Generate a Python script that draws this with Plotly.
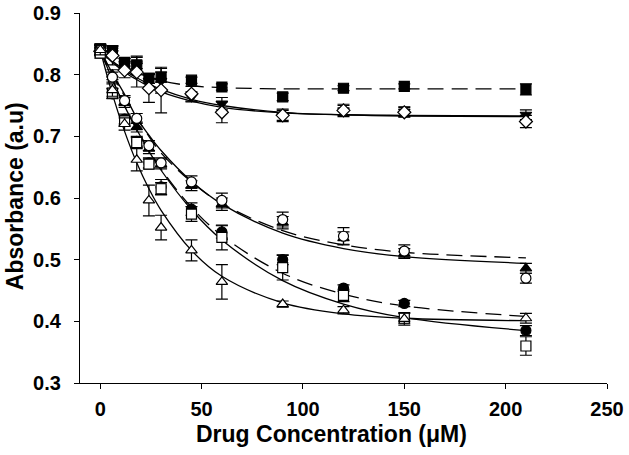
import plotly.graph_objects as go

conc = [0, 6, 12, 18, 24, 30, 45, 60, 90, 120, 150, 210]

# measured points (symbol: values, error)
sq_filled = [0.842, 0.839, 0.820, 0.816, 0.794, 0.796, 0.791, 0.780, 0.764, 0.778, 0.781, 0.776]
sq_filled_err = [0.008, 0.008, 0.006, 0.006, 0.008, 0.008, 0.005, 0.005, 0.006, 0.004, 0.004, 0.009]
tri_down = [0.840, 0.835, 0.818, 0.815, 0.790, 0.790, 0.764, 0.753, 0.734, 0.742, 0.740, 0.735]
tri_down_err = [0.008, 0.008, 0.008, 0.015, 0.010, 0.020, 0.008, 0.010, 0.008, 0.008, 0.008, 0.008]
diamond = [0.838, 0.831, 0.807, 0.804, 0.778, 0.775, 0.769, 0.739, 0.734, 0.742, 0.739, 0.724]
diamond_err = [0.008, 0.015, 0.012, 0.024, 0.023, 0.037, 0.012, 0.017, 0.010, 0.010, 0.008, 0.010]
circ_open = [0.840, 0.796, 0.758, 0.729, 0.685, 0.657, 0.626, 0.596, 0.565, 0.538, 0.514, 0.470]
circ_open_err = [0.008, 0.008, 0.008, 0.008, 0.008, 0.008, 0.010, 0.012, 0.012, 0.014, 0.010, 0.008]
tri_filled = [0.840, 0.800, 0.755, 0.715, 0.680, 0.655, 0.620, 0.590, 0.560, 0.535, 0.510, 0.486]
tri_filled_err = [0.008, 0.008, 0.008, 0.008, 0.008, 0.008, 0.008, 0.010, 0.010, 0.010, 0.008, 0.008]
circ_filled = [0.840, 0.769, 0.728, 0.692, 0.657, 0.618, 0.582, 0.545, 0.500, 0.454, 0.429, 0.385]
circ_filled_err = [0.008, 0.008, 0.008, 0.008, 0.008, 0.012, 0.010, 0.010, 0.008, 0.005, 0.005, 0.008]
sq_open = [0.835, 0.770, 0.725, 0.690, 0.655, 0.615, 0.574, 0.536, 0.487, 0.442, 0.405, 0.360]
sq_open_err = [0.008, 0.008, 0.008, 0.008, 0.008, 0.010, 0.012, 0.020, 0.020, 0.010, 0.008, 0.015]
tri_open = [0.840, 0.775, 0.720, 0.662, 0.596, 0.552, 0.515, 0.464, 0.428, 0.418, 0.404, 0.405]
tri_open_err = [0.008, 0.010, 0.010, 0.018, 0.025, 0.020, 0.017, 0.028, 0.005, 0.006, 0.010, 0.008]

# fitted curves at the same concentrations
fit_sq_filled = [0.840, 0.824, 0.812, 0.803, 0.796, 0.790, 0.782, 0.779, 0.777, 0.777, 0.777, 0.777]
fit_tri_down = [0.840, 0.822, 0.807, 0.795, 0.785, 0.776, 0.760, 0.750, 0.739, 0.735, 0.733, 0.732]
fit_diamond = [0.838, 0.820, 0.804, 0.792, 0.781, 0.772, 0.757, 0.747, 0.738, 0.735, 0.734, 0.733]
fit_circ_open = [0.840, 0.802, 0.768, 0.730, 0.702, 0.677, 0.627, 0.590, 0.543, 0.518, 0.505, 0.494]
fit_tri_filled = [0.840, 0.800, 0.765, 0.730, 0.700, 0.673, 0.626, 0.591, 0.547, 0.524, 0.512, 0.503]
fit_circ_filled = [0.840, 0.792, 0.749, 0.712, 0.678, 0.647, 0.585, 0.539, 0.478, 0.444, 0.425, 0.408]
fit_sq_open = [0.840, 0.792, 0.749, 0.711, 0.676, 0.645, 0.581, 0.532, 0.466, 0.428, 0.406, 0.385]
fit_tri_open = [0.840, 0.768, 0.708, 0.657, 0.615, 0.580, 0.515, 0.473, 0.430, 0.412, 0.405, 0.401]

x_ticks = [0, 50, 100, 150, 200, 250]
y_ticks = [0.3, 0.4, 0.5, 0.6, 0.7, 0.8, 0.9]
x_title = "Drug Concentration (μM)"
y_title = "Absorbance (a.u)"

FONT = "Arial, 'Liberation Sans', sans-serif"
fig = go.Figure()

curves = [
    (fit_sq_filled, "dash"), (fit_tri_down, "solid"), (fit_diamond, "solid"),
    (fit_circ_open, "solid"), (fit_tri_filled, "dash"), (fit_circ_filled, "dash"),
    (fit_sq_open, "solid"), (fit_tri_open, "solid"),
]
for ys, dash in curves:
    fig.add_trace(go.Scatter(
        x=conc, y=ys, mode="lines", line_shape="spline",
        line=dict(color="black", width=1.3, dash="16px,8px" if dash == "dash" else "solid"),
        showlegend=False, hoverinfo="skip"))

points = [
    (sq_filled, sq_filled_err, "square", "black"),
    (tri_down, tri_down_err, "triangle-down", "black"),
    (tri_filled, tri_filled_err, "triangle-up", "black"),
    (circ_filled, circ_filled_err, "circle", "black"),
    (diamond, diamond_err, "diamond", "white"),
    (circ_open, circ_open_err, "circle", "white"),
    (sq_open, sq_open_err, "square", "white"),
    (tri_open, tri_open_err, "triangle-up", "white"),
]
for ys, err, sym, fill in points:
    fig.add_trace(go.Scatter(
        x=conc, y=ys, mode="markers",
        marker=dict(symbol=sym, size=10, color=fill, line=dict(color="black", width=1.2)),
        error_y=dict(type="data", array=err, visible=True, color="black", thickness=1.2, width=6),
        showlegend=False))

fig.update_layout(
    width=629, height=455,
    margin=dict(l=80, r=22, t=13, b=72, autoexpand=False),
    paper_bgcolor="white", plot_bgcolor="white",
    font=dict(family=FONT, color="black"),
    annotations=[
        dict(text=y_title, textangle=-90, xref="paper", yref="paper",
             x=(15 - 80) / 527, y=0.505, xanchor="center", yanchor="middle", showarrow=False,
             font=dict(family=FONT, size=23, weight="bold", color="black")),
        dict(text=x_title, xref="paper", yref="paper",
             x=(331 - 80) / 527, y=(383 - 434) / 370, xanchor="center", yanchor="middle", showarrow=False,
             font=dict(family=FONT, size=23, weight="bold", color="black")),
    ],
)
fig.update_xaxes(
    automargin=False,
    range=[-10, 250], tickvals=x_ticks,
    showline=True, linecolor="black", linewidth=1.2,
    ticks="outside", ticklen=5, tickcolor="black", tickwidth=1.2,
    ticklabelstandoff=3,
    showgrid=False, zeroline=False,
    tickfont=dict(family=FONT, size=20, weight="bold", color="black"),
)
fig.update_yaxes(
    automargin=False,
    range=[0.3, 0.9], tickvals=y_ticks, tickformat=".1f",
    showline=True, linecolor="black", linewidth=1.2,
    ticks="outside", ticklen=5, tickcolor="black", tickwidth=1.2,
    ticklabelstandoff=9,
    showgrid=False, zeroline=False,
    tickfont=dict(family=FONT, size=20, weight="bold", color="black"),
)
fig.write_html(
    "out.html",
    config={"displayModeBar": False},
    post_script="document.body.style.margin='0';document.body.style.padding='0';",
)
